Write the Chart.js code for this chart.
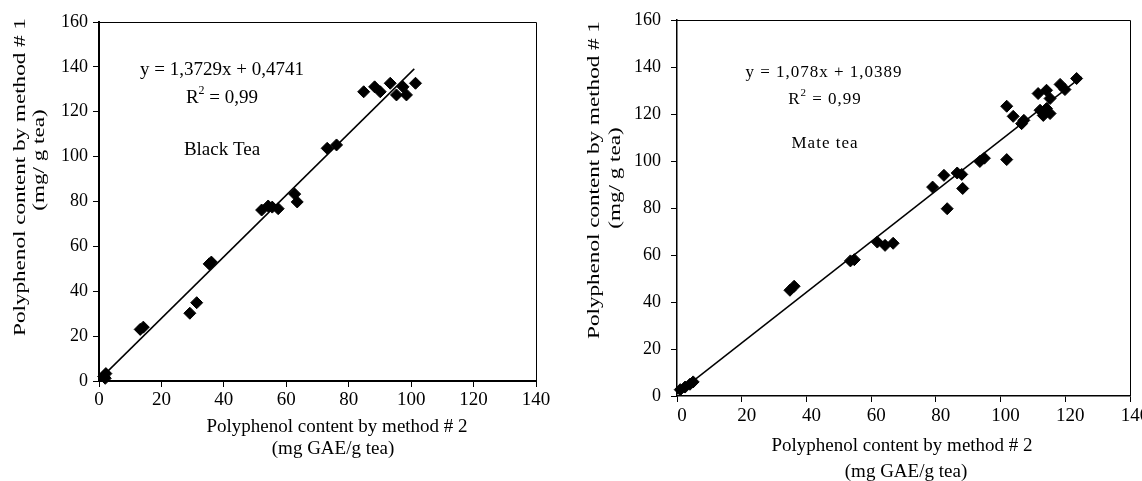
<!DOCTYPE html>
<html>
<head>
  <title>Polyphenol content: method 1 vs method 2</title>
  <script src="https://cdn.jsdelivr.net/npm/chart.js"></script>
  <style>
    body {
      margin: 0;
      background: #fff;
    }
    .wrap {
      position: relative;
      width: 1142px;
      height: 481px;
    }
    #leftChart {
      position: absolute;
      left: 0;
      top: 0;
    }
    #rightChart {
      position: absolute;
      left: 560px;
      top: 0;
    }
  </style>
</head>
<body>
  <div class="wrap">
    <canvas id="leftChart" width="560" height="481"></canvas>
    <canvas id="rightChart" width="582" height="481"></canvas>
  </div>

  <script>
    // Black tea: method 2 (x) vs method 1 (y)
    const blackX = [1.5, 2.2, 2.0, 13.2, 14.2, 29.1, 31.3, 35.3, 36.0, 52.1, 54.2, 55.5, 57.4, 62.7, 63.5, 73.1, 76.1, 84.8, 88.3, 90.1, 93.3, 95.3, 97.4, 98.5, 101.4];
    const blackY = [2.0, 3.3, 1.2, 23.0, 24.0, 30.2, 34.9, 52.2, 53.0, 76.2, 78.0, 77.5, 76.8, 83.3, 79.8, 103.7, 105.2, 128.9, 131.1, 128.9, 132.7, 127.5, 131.1, 127.5, 132.7];
    const blackTrendX = [0, 101];
    const blackTrendY = [0.5, 139.1];

    // Mate tea
    const mateX = [1.0, 2.5, 4.0, 5.0, 34.9, 36.2, 53.6, 54.8, 61.9, 64.3, 66.8, 79.0, 82.5, 83.5, 86.6, 88.0, 88.3, 93.6, 95.0, 101.9, 101.9, 103.9, 106.5, 107.2, 111.6, 112.2, 113.2, 114.2, 114.2, 115.3, 115.3, 118.4, 119.9, 123.5];
    const mateY = [2.7, 3.8, 5.0, 6.0, 45.0, 46.7, 57.5, 58.0, 65.5, 64.1, 65.0, 88.9, 93.9, 79.7, 94.9, 94.3, 88.3, 99.8, 101.2, 100.6, 123.3, 119.0, 115.9, 117.3, 128.7, 121.6, 119.4, 122.3, 130.1, 120.2, 126.6, 132.6, 130.4, 135.1];
    const mateTrendX = [0, 125];
    const mateTrendY = [1.0, 135.8];

    const xTickValues = [0, 20, 40, 60, 80, 100, 120, 140];
    const yTickValues = [0, 20, 40, 60, 80, 100, 120, 140, 160];

    const SERIF = "'Liberation Serif', 'Times New Roman', serif";

    function toPoints(xs, ys) {
      return xs.map((x, i) => ({ x: x, y: ys[i] }));
    }

    // draws free text (equation, labels, axis titles) and the top/right frame
    const textPlugin = {
      id: 'freeText',
      afterDraw(chart, args, opts) {
        const ctx = chart.ctx;
        const area = chart.chartArea;

        ctx.save();
        ctx.strokeStyle = '#000';
        ctx.lineWidth = 1;
        ctx.beginPath();
        ctx.moveTo(area.left, area.top + 0.5);
        ctx.lineTo(area.right + 0.5, area.top + 0.5);
        ctx.lineTo(area.right + 0.5, area.bottom);
        ctx.stroke();
        ctx.restore();

        (opts.items || []).forEach(t => {
          ctx.save();
          ctx.fillStyle = '#000';
          ctx.textBaseline = 'middle';
          ctx.textAlign = 'left';
          if (t.spacing) ctx.letterSpacing = t.spacing;
          const parts = t.parts || [{ text: t.text }];
          const big = t.size + 'px ' + SERIF;
          const small = Math.round(t.size * 0.62) + 'px ' + SERIF;
          let total = 0;
          parts.forEach(p => {
            ctx.font = p.sup ? small : big;
            total += ctx.measureText(p.text).width;
          });
          ctx.translate(t.x, t.y);
          if (t.rotate) ctx.rotate(t.rotate);
          if (t.stretch) ctx.scale(t.stretch, 1);
          let cx = -total / 2;
          parts.forEach(p => {
            ctx.font = p.sup ? small : big;
            ctx.fillText(p.text, cx, p.sup ? -t.size * 0.38 : 0);
            cx += ctx.measureText(p.text).width;
          });
          ctx.restore();
        });
      }
    };

    function makeChart(id, cfg) {
      const pad = cfg.padding;
      return new Chart(document.getElementById(id), {
        type: 'scatter',
        data: {
          datasets: [
            {
              data: toPoints(cfg.xs, cfg.ys),
              pointStyle: 'rectRot',
              pointRadius: 6,
              pointBackgroundColor: '#000',
              pointBorderColor: '#000',
              pointBorderWidth: 1,
              showLine: false,
              clip: false
            },
            {
              data: toPoints(cfg.trendX, cfg.trendY),
              showLine: true,
              borderColor: '#000',
              borderWidth: 1.5,
              pointRadius: 0,
              clip: false
            }
          ]
        },
        options: {
          responsive: false,
          animation: false,
          layout: { padding: pad },
          plugins: {
            legend: { display: false },
            tooltip: { enabled: false },
            freeText: { items: cfg.texts }
          },
          scales: {
            x: {
              type: 'linear',
              min: cfg.xMin,
              max: 140,
              afterBuildTicks: s => { s.ticks = xTickValues.map(v => ({ value: v })); },
              afterFit: s => { s.height = cfg.xAxisHeight; s.paddingLeft = 0; s.paddingRight = 0; },
              ticks: {
                color: '#000',
                font: { family: SERIF, size: 19 },
                padding: cfg.xTickPad,
                labelOffset: cfg.xLabelOffset,
                maxRotation: 0,
                autoSkip: false
              },
              grid: { drawOnChartArea: false, tickLength: 6, color: '#000' },
              border: { color: '#000', width: cfg.axisWidth }
            },
            y: {
              min: 0,
              max: 160,
              afterBuildTicks: s => { s.ticks = yTickValues.map(v => ({ value: v })); },
              afterFit: s => { s.width = cfg.yAxisWidth; s.paddingTop = 0; s.paddingBottom = 0; },
              ticks: {
                color: '#000',
                font: { family: SERIF, size: 18 },
                padding: cfg.yTickPad,
                autoSkip: false
              },
              grid: { drawOnChartArea: false, tickLength: 6, color: '#000' },
              border: { color: '#000', width: cfg.axisWidth }
            }
          }
        },
        plugins: [textPlugin]
      });
    }

    makeChart('leftChart', {
      xs: blackX, ys: blackY, trendX: blackTrendX, trendY: blackTrendY,
      xMin: 0,
      padding: { top: 22, right: 24, left: 0, bottom: 0 },
      xAxisHeight: 100, yAxisWidth: 99,
      xTickPad: 2, yTickPad: 5, xLabelOffset: 0, axisWidth: 2,
      texts: [
        { text: 'y = 1,3729x + 0,4741', x: 222, y: 70, size: 19 },
        { parts: [{ text: 'R' }, { text: '2', sup: true }, { text: ' = 0,99' }], x: 222, y: 98, size: 19 },
        { text: 'Black Tea', x: 222, y: 150, size: 19 },
        { text: 'Polyphenol content by method # 2', x: 337, y: 427, size: 19 },
        { text: '(mg GAE/g tea)', x: 333, y: 449, size: 19 },
        { text: 'Polyphenol content by method # 1', x: 21, y: 177, size: 17, rotate: -Math.PI / 2, stretch: 1.36 },
        { text: '(mg/ g tea)', x: 40, y: 160, size: 17, rotate: -Math.PI / 2, stretch: 1.36 }
      ]
    });

    makeChart('rightChart', {
      xs: mateX, ys: mateY, trendX: mateTrendX, trendY: mateTrendY,
      xMin: 0,
      padding: { top: 20, right: 12, left: 0, bottom: 0 },
      xAxisHeight: 85, yAxisWidth: 117,
      xTickPad: 3, yTickPad: 10, xLabelOffset: 5, axisWidth: 1.5,
      texts: [
        { text: 'y = 1,078x + 1,0389', x: 264, y: 73, size: 17, spacing: '1px' },
        { parts: [{ text: 'R' }, { text: '2', sup: true }, { text: ' = 0,99' }], x: 265, y: 100, size: 17, spacing: '1px' },
        { text: 'Mate tea', x: 265, y: 144, size: 17, spacing: '1px' },
        { text: 'Polyphenol content by method # 2', x: 342, y: 446, size: 19 },
        { text: '(mg GAE/g tea)', x: 346, y: 472, size: 19 },
        { text: 'Polyphenol content by method # 1', x: 35, y: 180, size: 17, rotate: -Math.PI / 2, stretch: 1.36 },
        { text: '(mg/ g tea)', x: 56, y: 178, size: 17, rotate: -Math.PI / 2, stretch: 1.36 }
      ]
    });
  </script>
</body>
</html>
